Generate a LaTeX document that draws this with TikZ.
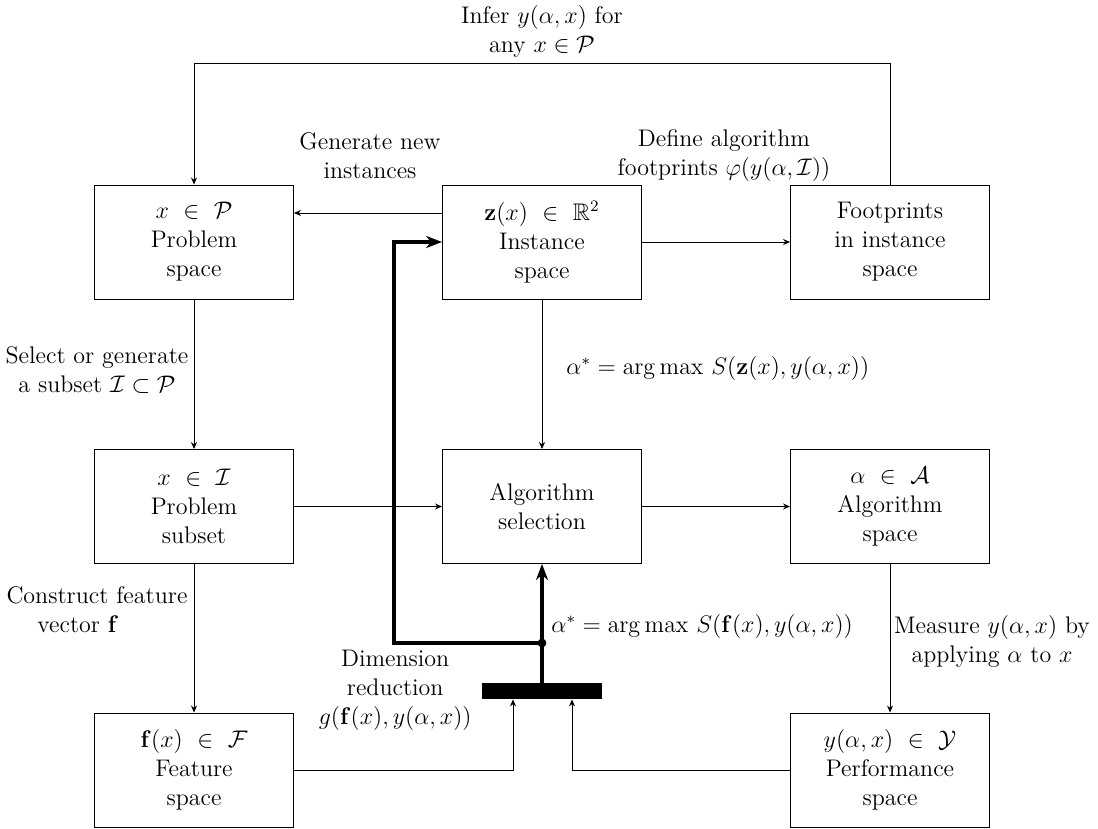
\documentclass[tikz,border=0pt,12pt]{standalone}
\usepackage{amsmath,amssymb}
\usetikzlibrary{arrows.meta,calc}

\tikzset{
  space/.style={draw, line width=0.45pt, minimum width=99.5pt, minimum height=57pt,
                align=center, inner sep=2pt},
  lbl/.style={align=center, inner sep=0pt},
  link/.style={line width=0.45pt, -{Stealth[length=3.5pt,width=3pt]}},
  mainflow/.style={line width=2pt, -{Stealth[length=8pt,width=6pt,inset=2.5pt]}},
}

\begin{document}
\begin{tikzpicture}[x=0.5pt, y=-0.5pt]
\useasboundingbox (0,0) rectangle (1098,829);

% spaces
\node[space] (ps)   at (194,242)   {$x\ \in\ \mathcal{P}$\\Problem\\space};
\node[space] (inst) at (542,242)   {$\mathbf{z}(x)\ \in\ \mathbb{R}^2$\\Instance\\space};
\node[space] (fp)   at (890,242)   {Footprints\\in instance\\space};
\node[space] (sub)  at (194,506.5) {$x\ \in\ \mathcal{I}$\\Problem\\subset};
\node[space] (sel)  at (542,506.5) {Algorithm\\selection};
\node[space] (as)   at (890,506.5) {$\alpha\ \in\ \mathcal{A}$\\Algorithm\\space};
\node[space] (fs)   at (194,770)   {$\mathbf{f}(x)\ \in\ \mathcal{F}$\\Feature\\space};
\node[space] (perf) at (890,770)   {$y(\alpha,x)\ \in\ \mathcal{Y}$\\Performance\\space};

% dimension reduction bar and junction
\node[fill=black, minimum width=60pt, minimum height=8pt, inner sep=0pt] (bar) at (542,691) {};
\coordinate (jn) at (542,643);
\coordinate (lc) at (394,643);
\coordinate (top) at (542,63);

% labels
\node[lbl] (linfer) at (542,31)  {Infer $y(\alpha,x)$ for\\any $x\in\mathcal{P}$};
\node[lbl] (lgen)   at (370,156) {Generate new\\instances};
\node[lbl] (ldef)   at (724,156) {Define algorithm\\footprints $\varphi(y(\alpha,\mathcal{I}))$};
\node[lbl] (lsel)   at (97,370)  {Select or generate\\a subset $\mathcal{I}\subset\mathcal{P}$};
\node[lbl, anchor=west] (lz) at (566,368) {$\alpha^* = \arg\max\, S(\mathbf{z}(x), y(\alpha,x))$};
\node[lbl] (lcon)   at (97,610)  {Construct feature\\vector $\mathbf{f}$\hspace*{19pt}};
\node[lbl, anchor=east] (ldim) at (472,690) {Dimension\\reduction\\$g(\mathbf{f}(x), y(\alpha,x))$};
\node[lbl, anchor=west] (lf) at (551,626) {$\alpha^* = \arg\max\, S(\mathbf{f}(x), y(\alpha,x))$};
\node[lbl] (lmeas)  at (992,641) {Measure $y(\alpha,x)$ by\\applying $\alpha$ to $x$};

% connectors
\draw[link] (fp.north) -- (fp.north |- top) -- (ps.north |- top) -- (ps.north);
\draw[link] ([yshift=14.5pt]inst.west) coordinate (g1) -- (ps.east |- g1);
\draw[link] (inst.east) -- (fp.west);
\draw[link] (inst.south) -- (sel.north);
\draw[link] (ps.south) -- (sub.north);
\draw[link] (sub.east) -- (sel.west);
\draw[link] (sel.east) -- (as.west);
\draw[link] (sub.south) -- (fs.north);
\draw[link] (as.south) -- (perf.north);
\draw[link] (fs.east) -| ([xshift=-14.5pt]bar.south);
\draw[link] (perf.west) -| ([xshift=15pt]bar.south);

% projection path
\draw[mainflow] (bar.north) -- (sel.south);
\draw[mainflow] (jn) -- (lc) |- (inst.west);
\fill (jn) circle (2.2pt);
\end{tikzpicture}
\end{document}
